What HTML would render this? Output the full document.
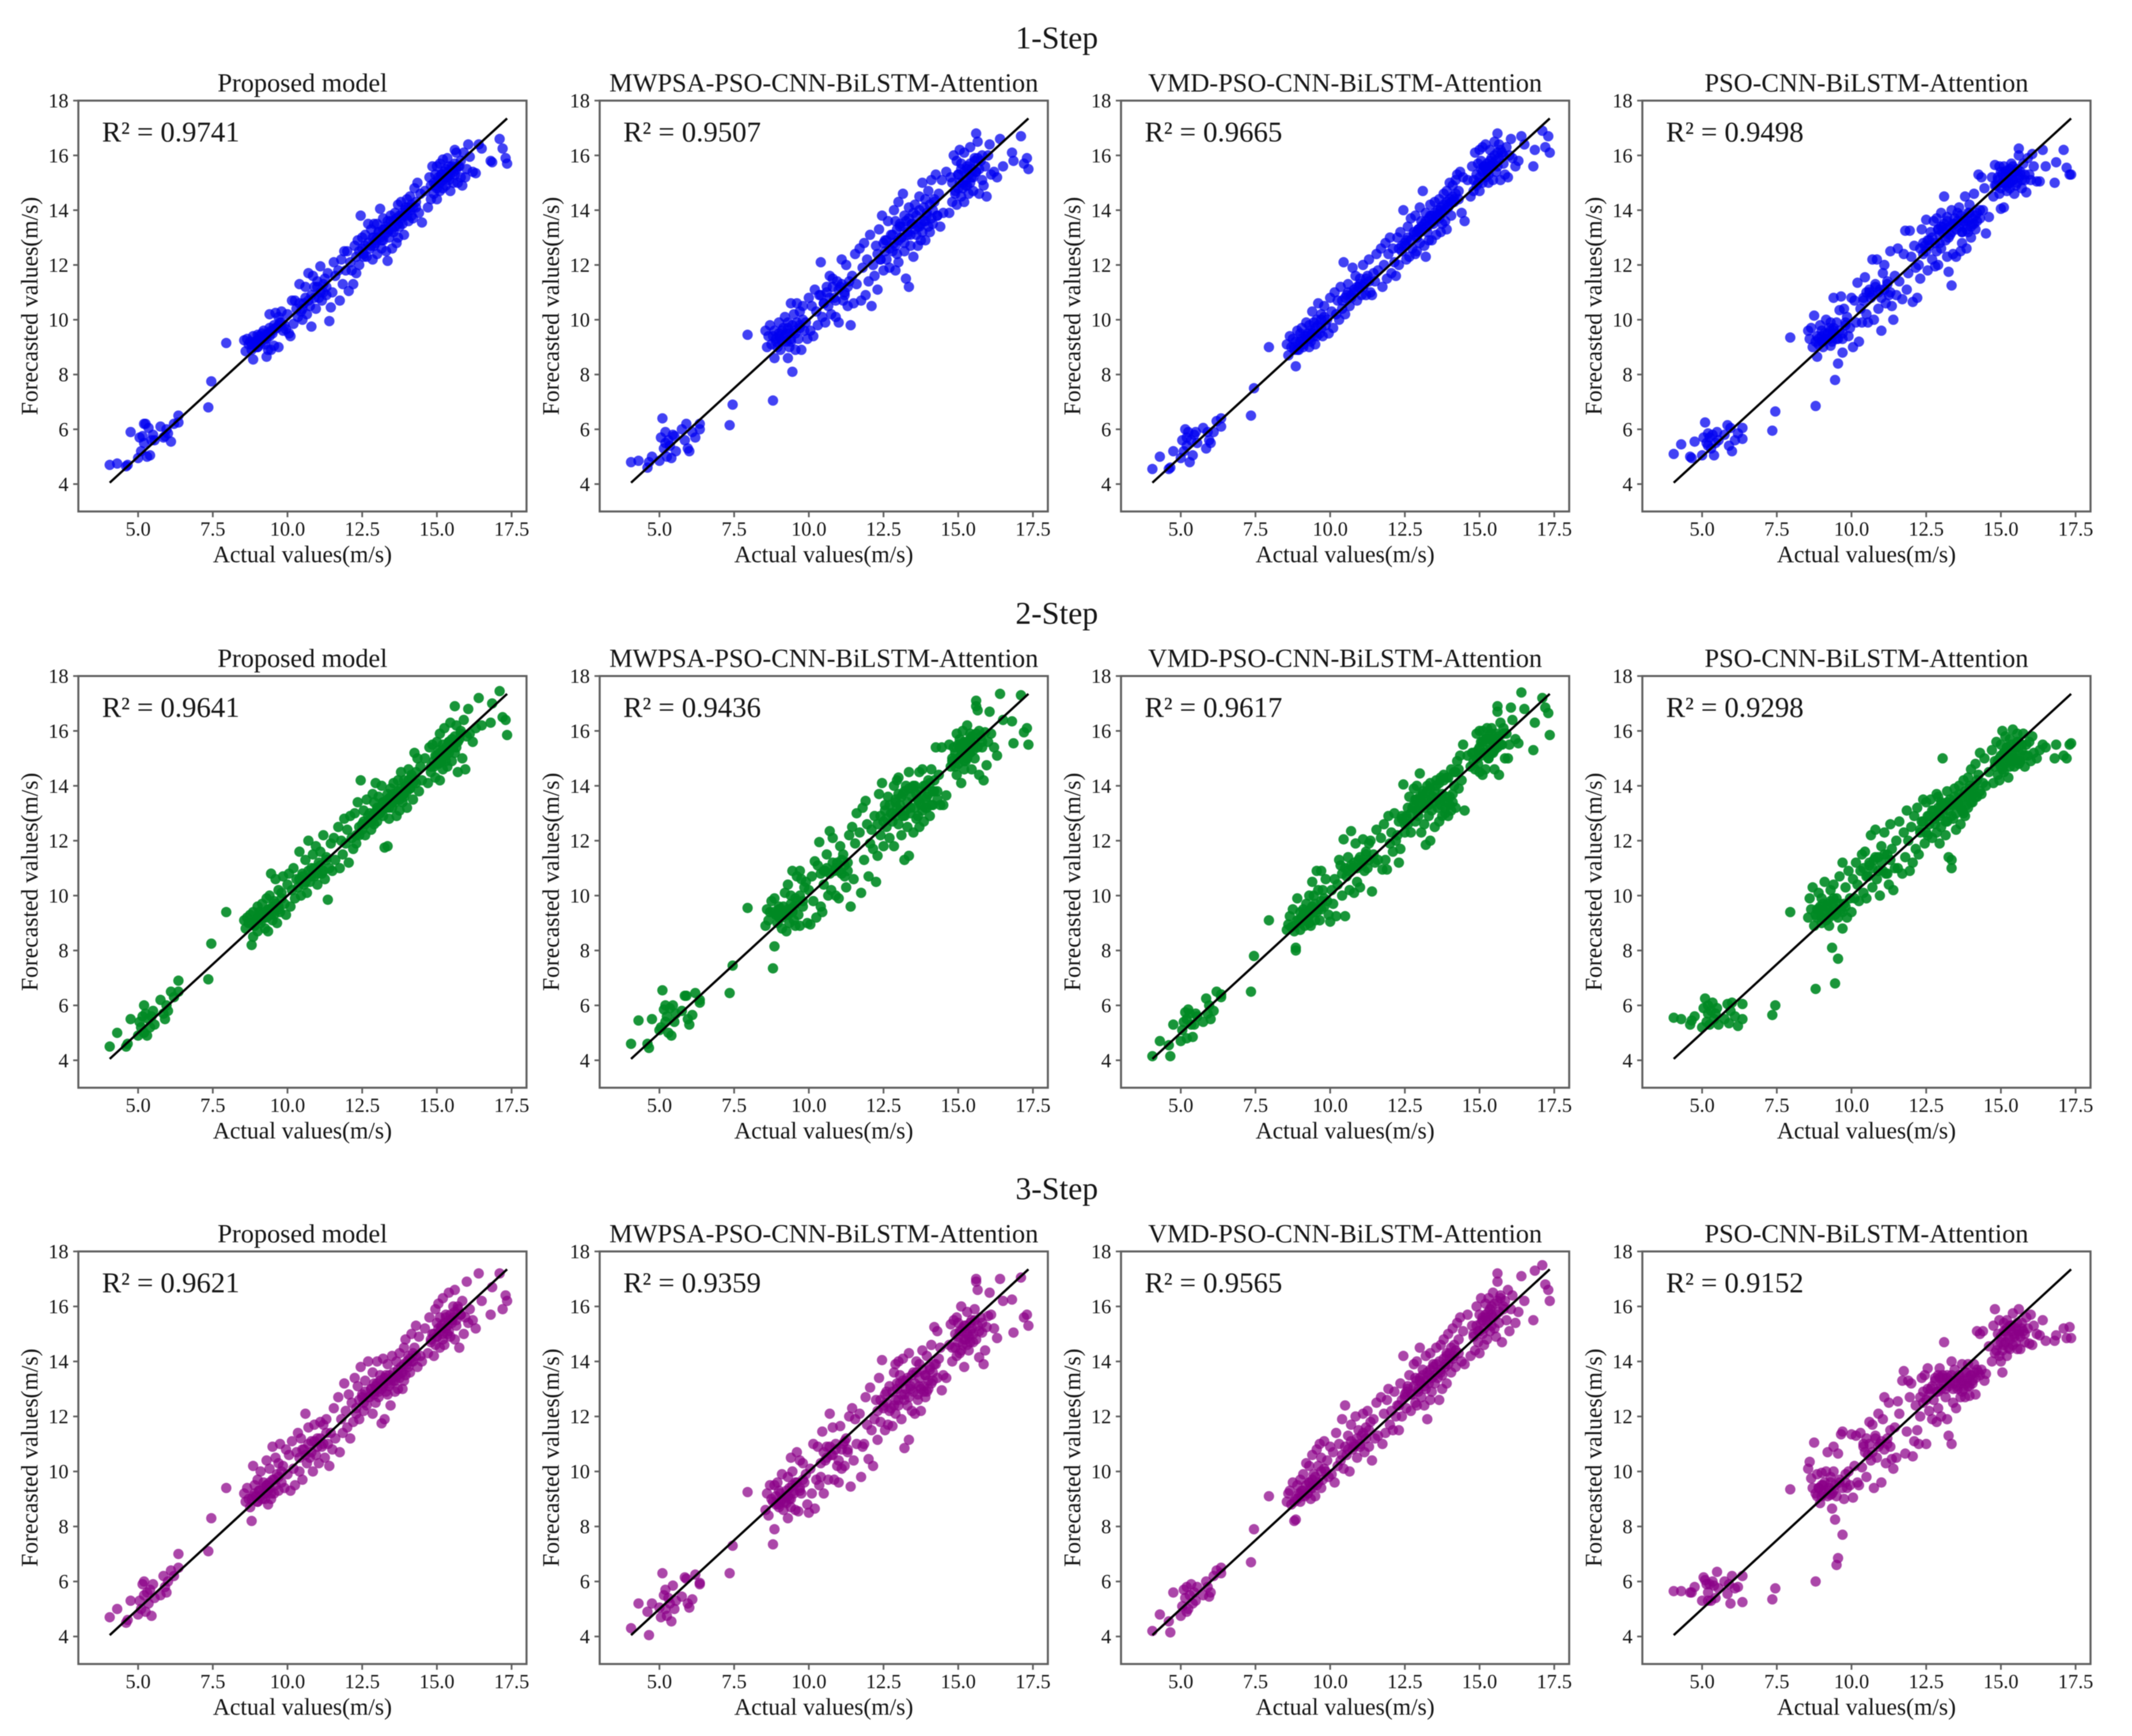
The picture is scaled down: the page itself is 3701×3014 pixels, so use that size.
<!DOCTYPE html>
<html lang="en">
<head>
<meta charset="utf-8">
<title>Forecast scatter comparison</title>
<style>
html,body{margin:0;padding:0;background:#fff;width:3701px;height:3014px;overflow:hidden}
svg{display:block;filter:blur(0.8px)}
text{font-family:"Liberation Serif",serif;fill:#151515}
</style>
</head>
<body>
<svg id="chart" xmlns="http://www.w3.org/2000/svg" width="3701" height="3014" viewBox="0 0 3701 3014"></svg>
<script>
const xTicks = [5, 7.5, 10, 12.5, 15, 17.5];
const xTickLabels = ['5.0', '7.5', '10.0', '12.5', '15.0', '17.5'];
const yTicks = [4, 6, 8, 10, 12, 14, 16, 18];
const yTickLabels = ['4', '6', '8', '10', '12', '14', '16', '18'];
const stepTitles = ['1-Step', '2-Step', '3-Step'];
const modelTitles = ['Proposed model', 'MWPSA-PSO-CNN-BiLSTM-Attention', 'VMD-PSO-CNN-BiLSTM-Attention', 'PSO-CNN-BiLSTM-Attention'];
const r2Labels = [
  ['0.9741', '0.9507', '0.9665', '0.9498'],
  ['0.9641', '0.9436', '0.9617', '0.9298'],
  ['0.9621', '0.9359', '0.9565', '0.9152']
];
const refLine = [4.05, 17.35];
const actual = [
4.05,4.3,4.6,4.65,4.75,
5.0,5.05,5.1,5.15,5.2,5.2,5.25,5.3,5.35,5.4,5.45,5.5,5.55,5.75,5.85,5.9,5.95,6.0,6.1,6.2,6.35,6.35,
7.35,7.45,7.95,
8.55,8.6,8.65,8.7,8.75,8.8,8.85,8.85,8.9,8.95,9.0,9.0,9.05,9.1,9.15,9.2,9.25,9.3,9.3,9.35,9.4,9.4,9.45,9.5,9.55,9.55,9.6,9.65,9.7,9.7,9.75,9.8,9.85,9.9,9.95,10.0,
10.05,10.1,10.15,10.2,10.25,10.3,10.35,10.4,10.45,10.5,10.55,10.6,10.65,10.7,10.75,10.8,10.85,10.9,10.95,11.0,11.05,11.1,11.15,11.2,11.25,11.3,11.35,11.4,11.45,11.5,
11.55,11.6,11.7,11.75,11.8,11.85,11.9,11.95,12.0,12.05,12.1,12.15,12.2,12.25,12.3,12.35,12.4,12.45,12.5,12.55,
12.6,12.65,12.7,12.75,12.8,12.85,12.85,12.9,12.9,12.95,13.0,13.0,13.05,13.1,13.15,13.2,13.2,13.25,13.3,13.35,13.35,13.4,13.45,13.5,13.55,13.6,13.65,13.7,13.7,13.75,13.8,13.85,13.9,13.9,13.95,14.0,14.05,14.1,14.15,14.2,14.25,14.3,14.35,14.4,14.45,14.5,
14.6,14.7,14.75,14.8,14.85,14.9,14.95,14.95,15.0,15.0,15.05,15.1,15.1,15.15,15.2,15.2,15.25,15.3,15.35,15.4,15.45,15.5,15.55,15.6,15.6,15.65,15.7,15.75,15.8,15.85,15.9,15.95,16.0,16.05,16.1,
16.2,16.3,16.4,16.5,16.8,16.85,17.1,17.2,17.3,17.35,
8.8,8.9,9.0,9.05,9.1,9.2,9.25,9.3,9.35,9.4,9.45,9.5,9.6,9.7,9.8,
10.4,10.5,10.6,10.7,10.8,10.9,11.0,11.1,11.2,11.3,
12.3,12.4,12.5,12.55,12.6,12.7,12.8,12.9,12.95,13.0,13.05,13.1,13.15,13.2,13.25,13.3,13.35,13.4,13.45,13.5,13.55,13.6,13.65,13.7,13.75,13.8,13.85,13.9,13.95,14.0,14.05,14.1,14.15,14.2,14.3,
14.8,14.9,15.0,15.05,15.1,15.15,15.2,15.25,15.3,15.3,15.35,15.4,15.4,15.45,15.5,15.55,15.6,15.65,15.7,15.8
];
const step1Proposed = [
4.7,4.75,4.65,4.7,5.9,
4.95,5.7,5.2,5.75,6.2,5.5,6.2,5.0,6.05,5.05,5.6,5.8,5.6,6.1,5.7,5.75,6.0,5.85,5.55,6.2,6.5,6.25,
6.8,7.75,9.15,
9.25,8.85,9.3,9.1,9.2,8.9,8.55,9.4,9.0,9.2,9.45,9.0,9.3,9.15,9.5,9.6,9.1,8.65,9.4,8.9,10.2,9.7,8.9,9.6,9.8,9.05,10.25,9.7,9.0,10.1,9.9,10.3,9.6,9.8,9.65,10.2,
9.5,9.4,10.7,9.85,10.7,10.4,10.1,11.3,10.3,10.0,10.6,11.2,10.2,11.7,10.5,9.75,11.6,11.2,10.4,11.4,10.8,11.95,10.7,11.0,11.5,10.9,11.7,9.95,10.45,11.0,
12.1,11.6,11.8,10.7,12.2,11.3,12.5,11.8,12.5,11.05,12.1,11.8,11.3,12.7,11.7,12.9,12.0,13.8,13.0,12.3,
13.1,12.3,13.5,12.6,13.3,12.2,13.0,13.5,12.7,12.9,13.5,12.4,13.2,14.05,12.6,13.7,12.9,13.3,12.5,12.15,13.6,13.0,13.8,12.6,13.2,13.9,12.8,13.0,14.2,13.4,14.3,13.5,13.8,13.1,14.1,14.4,13.6,14.5,13.8,13.7,14.8,14.1,15.0,13.9,14.6,13.55,
14.7,14.1,15.2,14.4,15.6,14.6,15.3,14.9,15.6,14.4,15.1,15.7,14.7,15.3,14.8,15.85,15.2,14.9,15.9,15.1,14.7,15.5,15.0,16.2,15.3,16.1,15.0,15.6,15.2,14.9,16.1,15.2,15.5,16.4,15.95,
15.4,15.35,16.4,16.25,15.8,15.75,16.6,16.25,15.9,15.7,
9.1,9.2,9.0,9.4,9.2,9.3,9.45,9.3,9.5,9.4,9.6,9.5,9.7,9.8,9.9,
10.6,10.4,10.8,10.7,10.9,10.8,11.2,11.0,11.3,11.2,
12.3,12.5,12.6,12.4,12.7,12.8,12.7,13.0,12.8,13.0,13.2,13.0,12.9,13.3,13.1,13.4,13.2,13.3,13.6,13.3,13.6,13.4,13.7,13.5,13.8,13.7,13.9,13.8,14.0,13.8,14.1,14.0,14.2,14.1,14.3,
14.9,15.0,14.8,15.2,15.0,15.3,15.1,15.4,15.2,15.5,15.2,15.4,15.6,15.3,15.6,15.4,15.7,15.5,15.6,15.8
];
const step1Mwpsa = [
4.8,4.85,4.6,4.8,5.0,
4.85,5.7,6.4,5.3,5.5,5.9,5.0,5.6,5.4,4.95,5.8,5.75,5.2,6.0,5.6,6.2,5.3,5.2,5.9,5.7,6.2,6.0,
6.15,6.9,9.45,
9.6,9.0,9.4,9.8,9.1,7.05,8.6,9.6,9.3,9.0,9.9,9.4,8.9,9.2,9.7,10.1,9.5,8.6,9.9,9.0,10.6,9.2,8.1,10.2,9.5,8.9,10.6,9.3,9.8,10.3,8.9,10.5,9.6,9.9,9.3,10.8,
9.6,10.5,9.4,11.1,10.3,9.8,10.9,12.1,10.1,10.6,9.9,11.2,10.5,11.6,10.2,11.5,10.8,10.1,11.4,9.9,11.2,12.2,10.7,11.0,12.0,10.5,11.4,9.8,11.6,10.6,
12.4,11.3,12.6,10.7,11.9,12.8,10.9,12.2,11.4,13.1,10.5,12.0,11.6,12.7,11.1,13.3,12.2,13.8,11.8,12.9,
12.2,13.6,11.9,13.1,12.5,14.0,12.8,11.8,13.6,12.4,14.3,12.1,13.4,13.0,14.6,12.5,13.8,11.5,13.1,11.2,14.1,12.7,13.5,12.3,14.2,13.1,12.7,14.5,13.4,12.9,15.0,13.6,14.4,12.9,13.8,14.7,13.2,15.1,13.5,14.4,15.3,13.8,14.6,13.4,15.1,13.9,
15.4,13.9,15.2,14.3,16.0,14.7,15.8,14.2,15.3,14.8,16.2,14.5,15.7,15.0,14.3,16.1,14.9,15.5,14.6,16.3,15.2,14.7,15.9,16.8,15.4,16.5,14.6,15.8,15.1,14.9,15.6,14.5,16.0,16.4,15.3,
15.4,15.2,16.6,15.6,16.1,15.8,16.7,15.7,15.9,15.5,
9.4,9.2,9.5,9.3,9.6,9.4,9.2,9.7,9.5,9.3,9.8,9.6,9.9,9.7,10.0,
10.9,10.6,11.0,10.8,11.2,10.7,11.1,11.3,10.9,11.2,
12.4,12.2,12.8,12.5,12.9,12.6,13.1,12.7,13.3,12.9,13.5,13.0,13.4,12.8,13.6,13.2,13.7,13.1,13.5,13.9,13.3,13.8,13.4,14.0,13.5,13.2,14.1,13.6,13.9,13.4,14.2,13.7,14.0,14.3,13.8,
15.0,14.6,15.3,15.0,15.5,14.8,15.4,15.1,15.6,14.9,15.3,15.7,15.0,15.5,15.2,15.8,15.4,15.9,15.5,16.0
];
const step1Vmd = [
4.55,5.0,4.55,4.6,5.2,
4.95,5.6,5.2,6.0,5.7,5.4,5.9,4.8,5.6,5.05,5.8,5.9,5.5,6.05,5.3,5.9,5.6,5.5,5.9,6.3,6.4,6.1,
6.5,7.5,9.0,
9.1,8.7,9.4,9.0,9.3,8.9,8.3,9.2,9.6,8.9,9.5,9.1,9.7,9.0,9.4,9.9,9.3,9.0,9.8,9.2,10.3,9.5,9.9,9.1,10.0,9.4,10.6,9.5,9.7,10.2,9.4,10.5,9.8,10.0,9.5,10.8,
10.3,9.7,11.0,10.2,10.7,10.0,11.2,10.4,12.1,10.2,10.9,11.3,10.5,10.8,11.9,11.0,11.6,10.7,11.2,11.5,10.9,12.0,11.3,10.9,11.6,12.2,11.0,10.9,11.7,11.4,
12.4,11.8,12.6,11.2,12.0,12.8,11.5,12.4,13.0,11.7,12.6,12.1,11.6,13.0,12.0,13.2,12.5,14.0,12.7,12.2,
13.4,12.3,13.7,12.6,13.2,12.4,13.8,13.0,12.5,13.3,14.1,12.8,13.6,14.7,12.7,13.9,12.3,13.2,12.9,13.8,14.2,12.9,13.5,14.3,13.1,13.8,14.4,13.2,14.0,13.5,14.6,13.6,14.7,13.3,14.2,15.0,13.8,14.9,14.3,15.1,15.3,14.4,15.4,13.9,15.2,13.6,
15.1,14.5,15.6,14.7,16.1,14.9,15.7,15.0,16.2,14.7,15.8,16.3,15.0,15.6,15.2,16.4,15.4,15.0,16.2,15.6,15.1,16.5,15.4,16.8,15.6,16.4,15.1,16.1,15.7,15.3,16.3,15.2,16.0,16.6,15.9,
15.6,15.8,16.7,16.4,15.6,16.2,16.9,16.3,16.7,16.1,
9.0,8.9,9.2,9.3,9.1,9.4,9.5,9.3,9.6,9.5,9.4,9.7,9.8,10.0,10.1,
10.7,10.8,11.0,10.9,11.1,11.2,11.3,11.2,11.5,11.4,
12.6,12.7,12.8,12.9,13.0,12.9,13.1,13.2,13.3,13.2,13.4,13.3,13.5,13.6,13.4,13.7,13.5,13.8,13.6,13.9,13.8,14.0,13.7,14.1,13.9,14.2,14.0,14.3,14.1,14.4,14.3,14.5,14.4,14.6,14.7,
15.1,15.3,15.2,15.5,15.4,15.6,15.5,15.7,15.6,15.3,15.8,15.6,15.9,15.7,16.0,15.8,16.1,15.9,16.2,16.0
];
const step1Pso = [
5.1,5.45,5.0,4.95,5.55,
5.05,5.7,6.25,5.5,5.85,5.4,5.7,5.3,5.8,5.05,5.5,5.9,5.6,5.8,6.15,5.4,6.05,5.2,5.6,5.85,6.05,5.65,
5.95,6.65,9.35,
9.6,9.3,9.7,9.0,10.15,6.85,8.65,9.4,9.1,9.8,9.2,9.6,9.0,9.5,10.0,9.3,9.7,9.05,9.9,9.2,9.6,10.8,7.8,9.9,8.4,9.3,10.35,10.85,8.8,9.3,10.4,9.9,10.1,9.4,9.7,10.8,
9.0,10.7,9.9,11.35,9.2,10.4,9.9,10.7,11.55,10.2,9.9,11.0,10.8,12.2,10.0,11.3,12.2,10.4,11.1,9.6,11.7,12.0,10.6,11.4,10.9,12.5,10.5,10.0,11.6,10.9,
12.6,11.4,10.75,12.4,13.25,11.1,11.7,13.25,12.3,10.65,12.7,11.9,10.8,12.0,11.5,13.3,12.4,12.7,13.65,11.8,
12.9,13.2,12.2,13.6,11.95,12.5,13.7,12.0,13.3,12.8,13.9,12.6,13.4,14.5,12.9,13.75,12.3,11.75,13.1,11.25,14.0,12.4,13.5,12.3,13.9,14.1,12.5,13.2,12.8,13.6,14.5,12.6,13.9,13.2,14.2,13.0,13.5,14.6,13.3,13.9,15.3,13.7,15.2,14.0,14.8,13.15,
13.75,15.2,14.5,15.65,14.9,15.1,15.6,14.6,15.4,14.05,15.0,15.6,14.1,15.3,14.7,15.45,15.0,14.8,15.7,15.1,14.6,15.4,15.0,16.25,16.0,15.3,14.8,15.7,15.1,14.65,15.9,15.3,15.1,16.05,15.6,
15.05,15.05,16.2,15.6,15.0,15.75,16.2,15.55,15.3,15.3,
9.2,9.3,9.4,9.2,9.3,9.5,9.3,9.6,9.4,9.7,9.5,9.3,9.6,9.5,9.8,
10.8,11.0,11.1,10.9,11.2,11.0,10.8,11.1,11.3,11.0,
12.6,12.8,12.5,12.9,12.7,13.0,12.8,13.3,13.1,13.4,13.2,13.5,13.3,13.6,13.0,13.4,13.2,13.5,13.7,13.3,13.6,13.4,13.8,13.2,13.5,13.7,13.3,13.6,13.9,13.4,13.7,13.5,13.8,13.6,14.0,
14.9,15.2,14.8,15.3,15.0,15.4,14.9,15.2,15.5,15.0,15.3,15.6,15.1,15.4,14.9,15.5,15.2,15.4,15.1,15.3
];
const step2Proposed = [
4.5,5.0,4.5,4.6,5.5,
4.9,5.4,5.2,5.6,6.0,5.0,5.7,4.9,5.5,5.2,5.6,5.8,5.3,6.2,5.7,5.5,6.0,5.8,6.5,6.3,6.9,6.5,
6.95,8.25,9.4,
9.1,8.8,9.2,9.0,9.3,8.2,8.5,9.4,8.9,9.1,9.6,8.7,9.4,9.0,9.7,9.2,8.8,9.9,9.2,8.7,10.0,9.5,10.8,9.1,9.8,9.3,10.6,9.0,9.6,10.2,9.4,10.1,10.7,9.7,9.3,10.4,
10.8,9.6,10.2,11.0,9.9,10.6,10.3,11.6,10.0,10.8,10.4,11.3,10.1,12.0,10.5,11.0,11.5,10.7,11.8,10.4,11.2,11.6,10.8,12.2,10.6,11.4,9.85,11.0,11.9,10.9,
12.1,11.3,12.5,11.0,12.0,11.5,12.8,11.9,12.4,11.2,12.9,12.1,11.7,13.0,11.9,13.4,12.2,14.2,12.6,13.1,
12.2,13.5,12.7,13.0,12.4,13.7,12.9,13.4,12.6,14.1,13.2,12.7,13.6,13.0,14.0,12.9,13.4,11.75,13.2,11.8,13.7,12.8,13.9,13.2,14.1,13.4,12.9,14.2,13.6,13.1,14.5,13.4,14.2,13.7,14.0,13.2,14.6,13.9,14.4,13.5,15.2,14.1,15.0,13.8,14.7,14.2,
15.0,14.1,15.4,14.5,15.5,14.7,15.1,14.3,15.6,14.8,15.3,14.2,15.9,14.9,15.5,14.6,16.1,15.1,14.7,15.6,16.3,14.9,15.4,16.9,15.2,16.2,14.5,15.7,16.0,15.0,16.4,14.6,15.8,16.8,15.9,
15.6,16.1,17.2,16.2,16.3,17.0,17.45,16.5,16.4,15.85,
9.0,8.9,9.2,9.1,9.3,9.2,9.4,9.3,9.5,9.4,9.3,9.6,9.7,9.5,9.9,
10.6,10.7,10.5,10.9,10.7,11.0,10.8,11.1,10.9,11.3,
12.2,12.5,12.4,12.7,12.6,12.9,12.7,13.0,12.9,13.1,13.0,13.2,13.1,13.4,13.2,13.3,13.5,13.2,13.6,13.4,13.7,13.5,13.6,13.8,13.5,13.9,13.7,13.6,14.0,13.8,14.2,13.9,14.3,14.1,14.5,
14.7,14.9,15.1,14.8,15.2,15.0,15.3,15.1,15.4,14.9,15.3,15.2,15.6,15.4,15.7,15.5,15.8,15.4,15.6,15.9
];
const step2Mwpsa = [
4.6,5.45,4.6,4.45,5.5,
5.1,5.2,6.55,5.85,6.0,5.4,5.6,5.0,5.9,4.9,6.0,5.4,5.7,5.8,6.35,6.35,5.5,5.3,5.65,6.45,6.1,6.2,
6.45,7.45,9.55,
8.9,9.5,9.1,9.4,9.8,7.35,8.15,9.9,9.3,9.0,9.5,9.2,9.4,8.8,9.6,10.1,8.7,9.3,10.4,9.0,9.5,10.0,10.9,9.1,9.9,8.9,10.7,9.3,10.9,8.9,10.6,9.6,10.3,10.5,9.0,10.2,
8.95,10.7,9.8,11.25,9.2,11.1,11.95,9.6,9.4,10.4,10.9,11.5,10.0,12.35,10.2,12.1,10.9,10.0,11.2,9.9,11.8,10.8,11.5,10.7,10.3,11.2,12.2,9.6,12.5,10.6,
11.9,13.0,12.3,10.1,13.2,11.3,13.45,12.6,10.7,11.9,12.4,11.7,12.9,10.5,11.45,13.7,12.2,14.1,11.8,13.3,
12.5,13.6,12.1,13.0,12.7,14.0,11.8,13.4,12.9,14.2,12.6,14.3,13.1,12.2,13.7,12.9,11.3,14.0,12.5,14.5,11.45,13.2,13.9,12.3,14.0,12.8,13.5,14.5,12.5,13.3,14.6,12.7,14.0,13.2,13.6,14.2,12.9,14.6,13.3,13.8,15.4,13.8,14.4,13.3,15.4,13.3,
13.65,15.5,14.7,15.0,15.4,14.7,15.9,14.4,15.5,14.8,15.7,14.1,15.3,16.0,14.6,15.6,14.9,16.2,15.2,15.9,14.6,15.5,15.0,17.1,16.9,16.75,14.4,15.8,15.4,14.2,15.95,14.75,15.6,16.7,15.9,
15.4,15.1,17.35,16.4,16.35,15.55,17.3,15.95,16.1,15.5,
9.4,9.3,9.6,9.5,9.2,9.4,9.3,9.5,9.4,9.7,9.4,9.6,9.8,10.0,9.8,
10.8,10.9,11.0,10.8,11.2,11.0,10.9,11.3,11.1,10.9,
12.6,12.9,12.7,13.1,12.8,13.3,13.0,13.5,13.2,13.7,13.3,13.6,12.9,13.8,13.1,13.4,13.9,13.0,13.6,14.0,13.2,13.7,12.9,13.4,13.8,13.1,14.0,13.5,13.2,13.7,14.1,13.3,13.8,14.2,13.5,
14.9,15.2,15.0,15.4,15.1,15.5,14.9,15.3,15.6,15.0,15.4,15.7,15.2,15.8,15.3,15.6,15.9,15.4,16.0,15.6
];
const step2Vmd = [
4.15,4.7,4.55,4.15,5.3,
4.7,5.1,5.4,5.75,4.8,5.5,5.85,5.7,5.3,4.85,5.3,5.7,5.6,5.4,6.25,5.7,6.0,5.5,5.8,6.5,6.3,6.4,
6.5,7.8,9.1,
8.75,8.95,9.25,8.85,9.5,8.7,8.1,8.0,9.9,9.1,9.4,8.75,9.2,9.5,8.9,9.7,9.2,9.0,10.0,8.9,10.5,9.5,10.0,9.1,10.9,9.4,10.2,9.1,10.9,9.5,10.2,9.6,10.6,9.8,9.3,9.05,
10.2,9.7,10.6,9.25,10.4,11.3,11.1,10.0,12.05,9.25,10.7,11.4,10.2,12.35,11.0,10.1,11.9,10.5,11.3,10.3,11.1,12.05,10.9,11.6,11.0,11.9,12.0,10.15,11.5,11.2,
12.4,11.3,12.1,10.95,12.6,11.3,10.95,12.9,11.9,12.3,11.6,13.0,12.0,12.2,11.2,11.7,12.8,14.05,12.3,12.9,
12.6,13.6,12.3,13.2,13.9,12.7,13.5,14.0,13.1,12.9,14.45,13.3,12.3,13.8,12.6,11.85,13.4,14.0,12.9,12.0,14.1,13.1,13.6,12.5,14.2,13.2,12.7,14.3,13.5,12.9,14.4,13.0,14.3,13.6,12.9,13.3,14.6,13.7,14.0,14.5,14.9,13.9,15.1,14.2,15.5,13.1,
15.1,14.7,15.2,14.9,14.6,15.9,15.3,14.8,16.0,14.5,15.6,16.0,14.4,15.2,15.7,14.6,16.1,15.0,15.7,16.1,15.2,14.6,15.9,16.9,16.7,14.4,16.3,15.5,16.1,15.0,15.9,15.0,15.5,16.85,16.4,
15.7,15.55,17.4,16.8,15.3,16.3,17.2,16.85,16.65,15.85,
8.9,9.1,9.0,9.2,9.3,9.1,9.4,9.3,9.5,9.6,9.4,9.7,9.5,9.8,9.9,
10.8,11.0,10.9,11.1,11.2,11.0,11.4,11.2,11.5,11.3,
12.7,12.9,12.6,12.8,13.2,13.0,13.3,13.5,13.1,13.6,13.4,13.7,13.2,13.5,13.8,13.3,13.9,13.6,13.4,13.8,14.0,13.5,14.1,13.3,13.7,14.2,13.2,13.4,14.3,13.6,13.1,13.4,14.5,13.2,14.6,
15.2,15.0,15.4,15.1,15.6,15.2,15.7,15.3,15.8,15.0,15.5,15.9,15.2,15.6,15.3,15.7,15.4,15.8,15.5,15.9
];
const step2Pso = [
5.55,5.5,5.3,5.45,5.6,
5.2,5.9,6.25,5.4,5.7,6.0,5.3,5.8,6.1,5.5,5.7,5.9,5.3,5.5,6.05,5.35,5.8,6.1,5.6,5.25,6.05,5.5,
5.65,6.0,9.4,
9.2,9.9,9.5,10.3,8.9,6.6,9.5,9.2,10.1,9.6,9.0,9.9,9.4,10.5,9.1,9.7,8.9,10.2,9.3,8.1,9.6,10.4,6.8,9.9,7.7,9.2,10.7,9.5,8.8,11.2,9.7,10.3,9.2,10.9,9.9,9.4,
10.6,9.9,11.2,10.4,9.8,10.9,11.5,10.1,11.6,9.9,10.7,11.1,12.2,10.3,11.3,12.4,10.6,11.4,10.0,11.8,10.9,12.3,10.8,11.5,10.4,12.6,11.7,10.2,11.0,12.0,
11.0,12.7,10.8,12.3,11.4,13.1,12.0,10.9,12.5,11.2,12.9,11.7,13.2,11.5,12.3,12.7,13.5,11.9,13.4,12.2,
12.9,13.5,12.1,13.1,12.6,13.7,12.3,13.0,13.6,11.9,13.4,12.5,15.0,13.2,12.2,13.8,12.7,11.4,13.3,11.3,11.0,12.8,13.9,12.4,13.3,14.0,12.6,13.6,13.1,14.2,12.9,13.7,14.3,13.2,14.0,14.6,13.4,13.9,14.8,13.6,14.4,15.2,13.7,14.1,15.0,14.0,
14.5,15.3,14.1,14.9,15.6,14.4,15.0,14.2,15.5,14.7,16.0,15.2,14.5,15.8,14.9,15.4,14.3,15.7,15.0,16.05,14.7,15.4,15.9,14.8,15.6,14.9,15.3,15.9,14.7,15.5,15.1,15.6,14.9,15.8,15.2,
15.0,15.3,15.5,15.4,15.0,15.5,15.1,15.0,15.5,15.55,
9.3,9.5,9.2,9.7,9.4,9.6,9.2,9.8,9.4,9.9,9.3,9.5,9.7,9.4,9.6,
11.0,10.7,11.2,11.0,11.4,10.9,11.2,11.5,10.8,11.3,
12.4,12.7,12.3,12.9,12.6,13.1,12.8,13.2,12.9,13.3,13.0,13.3,12.7,13.4,13.1,13.5,12.9,13.3,13.6,13.0,13.4,13.7,13.2,13.5,13.0,13.8,13.3,13.6,13.9,13.4,13.7,14.0,13.6,14.2,13.8,
14.7,14.9,15.1,14.6,15.2,14.8,15.4,15.0,15.3,14.7,15.5,15.1,14.9,15.4,15.0,15.6,15.2,14.9,15.5,15.1
];
const step3Proposed = [
4.7,5.0,4.5,4.6,5.3,
4.8,5.3,5.0,5.9,5.5,6.0,4.9,5.6,5.2,5.7,4.75,5.9,5.4,5.5,6.2,5.8,5.6,6.0,6.4,6.2,7.0,6.5,
7.1,8.3,9.4,
9.2,8.9,9.4,9.0,8.7,8.2,9.1,10.2,9.5,9.1,9.7,8.9,9.3,10.0,9.0,9.6,9.2,10.4,9.5,8.8,10.1,9.4,9.0,10.9,9.7,9.2,10.5,9.9,9.3,10.3,11.0,9.6,10.2,9.4,10.8,9.9,
10.6,9.3,11.1,10.1,9.5,10.7,11.4,10.0,11.2,9.7,10.8,12.1,10.3,11.6,10.5,11.1,10.0,11.7,10.6,11.2,10.3,11.8,10.9,11.7,10.5,11.9,11.0,10.2,11.4,10.8,
12.3,11.2,12.7,10.7,11.9,11.4,13.2,12.2,11.6,12.8,11.2,12.5,11.8,13.4,12.1,13.1,11.9,13.8,12.7,12.2,
13.3,12.4,14.0,12.7,13.0,12.1,13.6,12.9,13.2,12.5,14.0,13.0,12.7,13.5,11.75,14.1,13.2,11.9,13.5,12.8,13.9,13.1,12.4,14.2,13.3,12.9,14.0,13.5,13.0,14.3,13.6,13.0,14.5,13.3,14.8,13.9,14.2,13.6,15.0,14.0,14.5,15.3,13.8,14.9,14.2,14.0,
15.2,14.3,15.6,14.7,15.0,14.2,15.9,14.6,15.4,14.9,16.1,14.5,15.6,15.2,14.8,16.3,14.6,15.7,15.0,16.5,14.9,15.5,16.0,14.8,16.6,15.3,15.9,14.5,15.7,16.2,15.0,15.6,16.9,15.4,15.9,
15.5,15.2,17.2,16.2,15.7,16.7,17.2,15.9,16.4,16.2,
9.0,9.2,8.9,9.3,9.1,9.4,9.0,9.5,9.3,9.6,9.2,9.7,9.5,9.8,10.0,
10.5,10.8,10.6,11.0,10.7,11.1,10.9,11.2,11.0,11.4,
12.3,12.6,12.8,12.5,12.9,12.7,13.0,12.8,13.1,13.2,12.9,13.3,13.0,13.1,13.4,12.9,13.3,13.5,13.2,13.4,13.6,13.3,13.5,13.7,13.4,13.8,13.6,13.9,13.5,14.0,13.8,14.1,14.0,14.3,14.2,
14.8,15.0,14.9,15.2,15.1,15.3,15.0,15.4,15.2,15.6,15.3,15.5,15.1,15.7,15.4,15.6,15.8,15.5,16.0,15.7
];
const step3Mwpsa = [
4.3,5.2,4.9,4.05,5.2,
5.05,4.7,6.3,5.5,5.7,5.0,4.75,5.4,5.2,4.55,5.85,5.0,5.3,5.45,6.15,6.1,5.2,5.05,5.35,6.25,5.95,5.9,
6.3,7.3,9.25,
8.6,9.2,8.4,9.5,9.0,7.35,7.9,9.5,8.8,9.6,8.7,9.3,8.9,9.9,8.6,9.1,8.85,8.3,9.8,9.0,10.5,8.7,10.0,9.3,8.6,9.6,10.7,8.55,9.3,10.4,9.2,10.3,9.6,9.9,8.8,8.5,
10.1,9.2,11.0,8.65,9.7,10.9,9.5,9.8,11.45,9.2,10.4,10.9,9.7,12.1,10.6,11.6,9.7,10.8,10.2,9.6,11.65,10.1,11.0,10.2,11.2,10.8,12.0,9.45,12.3,10.4,
11.9,11.0,12.1,9.8,10.9,11.0,12.7,11.7,10.45,13.05,11.5,10.2,11.9,12.6,11.15,13.4,11.8,14.05,12.4,11.5,
12.9,11.7,13.1,12.3,11.65,13.6,12.4,13.9,12.1,13.2,14.0,12.6,13.5,11.9,14.1,12.8,10.85,13.3,12.4,14.3,11.15,13.0,12.2,13.6,12.1,14.0,12.6,13.1,13.9,12.2,14.4,12.9,13.5,12.7,14.2,13.0,13.7,14.6,13.3,15.25,13.9,15.1,14.1,14.5,12.95,13.5,
13.4,14.6,15.35,14.0,15.5,14.5,15.6,14.2,14.9,15.4,14.3,15.1,16.0,14.6,13.8,15.3,14.8,15.8,14.4,15.1,15.5,14.7,15.9,17.0,16.9,16.6,14.15,15.6,15.05,13.9,14.4,15.25,15.65,16.5,15.7,
15.2,14.85,17.0,16.2,16.25,15.05,17.05,15.6,15.7,15.3,
8.9,9.1,8.8,9.2,9.0,8.9,9.3,9.1,9.4,9.0,9.5,9.2,9.6,9.4,9.7,
10.3,10.7,10.5,10.9,10.6,11.0,10.4,10.8,11.1,10.7,
12.2,12.6,12.3,12.8,12.5,12.2,12.9,12.6,13.0,12.4,13.2,12.8,13.3,12.6,13.0,13.4,12.7,13.1,13.5,12.9,13.2,13.6,12.8,13.4,13.0,13.7,13.1,13.5,12.9,13.3,13.8,13.2,13.6,13.9,13.4,
14.5,15.0,14.7,15.1,14.4,15.2,14.8,15.3,14.6,15.0,14.9,15.4,14.7,15.2,15.0,15.5,14.8,15.3,15.1,15.4
];
const step3Vmd = [
4.2,4.8,4.55,4.15,5.6,
4.75,5.1,5.7,5.4,4.9,5.8,5.0,5.5,5.9,5.2,5.6,5.3,5.8,5.5,6.0,5.8,5.45,5.6,6.2,6.4,6.5,6.3,
6.7,7.9,9.1,
8.9,9.2,9.3,8.8,9.6,8.2,8.25,9.0,9.5,9.2,9.7,8.9,9.3,9.9,9.1,10.3,9.2,9.6,10.2,9.0,10.6,9.4,9.9,9.1,10.8,9.5,10.2,11.0,9.4,10.5,9.7,11.1,10.0,10.4,9.8,10.9,
9.9,10.7,9.6,11.4,10.2,11.0,10.4,11.9,10.1,12.4,10.6,11.3,10.0,11.7,10.8,11.0,12.0,10.5,11.5,10.9,11.3,12.1,10.7,11.6,12.2,10.9,11.8,10.4,11.9,11.2,
12.5,11.3,12.7,11.0,12.1,11.4,12.6,13.0,11.7,12.2,11.5,12.9,12.0,12.4,11.5,13.2,12.0,14.2,12.8,12.3,
13.1,13.5,12.2,12.8,13.9,12.5,13.4,12.4,14.0,12.9,13.3,14.5,12.7,13.7,12.4,14.2,13.0,11.9,13.5,12.6,14.3,12.9,13.9,13.2,14.5,13.4,12.6,14.6,13.6,13.0,14.8,13.9,14.3,13.2,15.0,14.1,13.6,15.2,14.2,13.8,15.4,14.3,15.6,14.0,15.1,13.9,
15.7,14.2,15.3,14.9,14.4,16.0,15.1,14.7,15.7,14.3,16.3,15.0,15.5,14.6,16.1,15.6,14.8,16.3,15.1,15.7,16.5,15.2,14.9,17.2,16.9,15.4,16.4,14.7,15.9,16.2,15.5,16.6,15.1,15.9,16.4,
15.4,15.8,17.1,16.2,15.5,17.3,17.5,16.8,16.6,16.2,
8.9,9.0,9.2,9.1,9.3,9.5,9.2,9.6,9.4,9.7,9.5,9.8,9.6,10.0,10.1,
10.6,10.9,10.8,11.1,10.9,11.2,11.0,11.4,11.2,11.5,
12.4,12.6,12.7,12.9,13.0,12.8,13.1,13.3,13.0,13.4,13.2,13.5,13.1,13.3,13.6,13.2,13.7,13.4,13.8,13.5,13.9,13.6,14.0,13.7,13.5,14.1,13.8,14.2,13.9,14.3,14.5,14.1,14.6,14.4,14.8,
15.0,15.3,15.1,15.4,15.6,15.2,15.7,15.4,15.8,15.5,15.9,15.3,16.0,15.6,16.1,15.7,16.2,15.8,16.3,16.0
];
const step3Pso = [
5.65,5.65,5.6,5.6,5.8,
5.3,6.15,6.05,5.9,5.6,5.3,5.9,5.3,6.0,5.85,5.4,6.35,5.75,6.0,5.55,5.9,5.2,6.2,5.75,5.8,5.25,6.2,
5.35,5.75,9.35,
10.1,10.35,9.75,9.4,11.05,6.0,9.1,9.9,9.4,8.85,9.5,9.95,9.2,9.6,10.0,10.7,9.3,9.8,9.15,8.65,10.0,10.9,8.25,6.6,6.85,10.65,9.6,11.35,7.7,11.45,9.0,9.9,9.4,10.0,9.5,11.35,
9.05,10.2,11.3,9.6,9.5,11.4,10.15,11.0,10.7,9.8,10.6,11.8,10.4,11.7,9.4,11.2,10.5,12.1,11.0,9.6,11.9,12.7,10.3,11.0,12.5,11.5,10.45,10.1,11.6,10.5,
12.55,12.1,13.3,13.65,10.65,11.45,13.3,12.7,13.2,10.55,11.1,12.4,11.5,11.0,12.0,13.4,12.5,13.5,11.0,13.75,
12.2,13.0,11.9,12.6,13.4,11.8,12.9,13.5,12.3,13.75,13.1,12.0,13.4,14.7,12.7,11.9,13.5,11.3,13.2,14.0,11.0,12.5,13.7,12.3,13.0,13.4,12.7,13.9,12.9,13.3,12.7,13.6,13.9,13.1,12.75,13.5,13.2,13.9,12.8,15.1,13.6,15.0,13.7,15.1,13.3,13.55,
14.55,14.0,15.3,15.9,14.4,15.0,14.2,15.5,14.7,14.0,13.6,15.4,14.6,15.1,14.2,15.5,14.9,14.45,15.3,15.75,14.9,15.2,14.45,15.9,15.0,14.45,15.4,15.1,14.7,15.6,15.2,14.65,15.7,14.6,15.3,
15.0,14.95,15.5,14.75,14.75,14.95,15.2,14.85,15.25,14.85,
9.2,9.4,9.1,9.5,9.3,9.1,9.4,9.6,9.2,9.3,9.5,9.1,9.7,9.4,9.6,
10.9,11.2,11.0,10.7,11.3,10.9,11.1,10.8,11.2,10.9,
12.7,12.9,12.6,13.0,12.8,13.1,13.3,12.9,13.4,13.0,13.5,13.2,13.0,13.4,13.1,13.3,13.5,13.0,13.2,13.4,13.1,13.5,13.2,13.3,13.0,13.6,13.2,13.4,13.1,13.5,13.3,13.6,13.4,13.7,13.5,
14.3,14.6,14.9,14.4,15.1,14.7,15.2,14.5,15.3,14.8,15.1,14.6,15.3,15.0,14.7,15.4,15.1,14.9,15.2,15.0
];
const seriesGrid = [
  [step1Proposed, step1Mwpsa, step1Vmd, step1Pso],
  [step2Proposed, step2Mwpsa, step2Vmd, step2Pso],
  [step3Proposed, step3Mwpsa, step3Vmd, step3Pso]
];

const NS = 'http://www.w3.org/2000/svg';
const root = document.getElementById('chart');
const rowFills = ['#0000f0', '#008a24', '#8b0088'];
const rowOpacity = [0.74, 0.9, 0.72];
const rowNames = ['step-1', 'step-2', 'step-3'];
const modelNames = ['proposed', 'mwpsa', 'vmd', 'pso'];
const W = 778;
const colLeft = c => 136 + c * 905;
const rowTop = r => 174.7 + r * 999;
const rowBottom = r => 888 + r * 1000.5;
const X_MIN = 3, X_MAX = 18, Y_MIN = 3, Y_MAX = 18;

function make(tag, attrs, parent) {
  const el = document.createElementNS(NS, tag);
  for (const k in attrs) el.setAttribute(k, attrs[k]);
  parent.appendChild(el);
  return el;
}

for (let r = 0; r < 3; r++) {
  const stepTitle = make('text', {x: 1834.5, y: 84 + r * 999, 'text-anchor': 'middle', 'font-size': 55}, root);
  
  
  stepTitle.textContent = stepTitles[r];

  for (let c = 0; c < 4; c++) {
    const left = colLeft(c), top = rowTop(r), bottom = rowBottom(r), H = bottom - top;
    const sx = v => left + (v - X_MIN) / (X_MAX - X_MIN) * W;
    const sy = v => bottom - (v - Y_MIN) / (Y_MAX - Y_MIN) * H;

    const panel = make('g', {}, root);
    
    

    const title = make('text', {x: left + W / 2, y: top - 15.7, 'text-anchor': 'middle', 'font-size': 45.6}, panel);
    
    
    title.textContent = modelTitles[c];

    const ys = seriesGrid[r][c];
    const points = make('g', {fill: rowFills[r], 'fill-opacity': rowOpacity[r]}, panel);
    
    
    for (let i = 0; i < actual.length && i < ys.length; i++) {
      const dot = make('circle', {cx: sx(actual[i]), cy: sy(ys[i]), r: 9}, points);
      
      
    }

    const line = make('line', {x1: sx(refLine[0]), y1: sy(refLine[0]), x2: sx(refLine[1]), y2: sy(refLine[1]), stroke: '#000', 'stroke-width': 4}, panel);
    
    

    const frame = make('rect', {x: left, y: top, width: W, height: H, fill: 'none', stroke: '#5e5e5e', 'stroke-width': 3.5}, panel);
    
    

    xTicks.forEach((v, i) => {
      const tick = make('line', {x1: sx(v), y1: bottom, x2: sx(v), y2: bottom + 10, stroke: '#5e5e5e', 'stroke-width': 3}, panel);
      
      
      const label = make('text', {x: sx(v), y: bottom + 42, 'text-anchor': 'middle', 'font-size': 35}, panel);
      
      
      label.textContent = xTickLabels[i];
    });
    yTicks.forEach((v, i) => {
      const tick = make('line', {x1: left - 9, y1: sy(v), x2: left, y2: sy(v), stroke: '#5e5e5e', 'stroke-width': 3}, panel);
      
      
      const label = make('text', {x: left - 17, y: sy(v) + 12, 'text-anchor': 'end', 'font-size': 35}, panel);
      
      
      label.textContent = yTickLabels[i];
    });

    const xLabel = make('text', {x: left + W / 2, y: bottom + 88, 'text-anchor': 'middle', 'font-size': 41}, panel);
    
    
    xLabel.textContent = 'Actual values(m/s)';

    const yLabel = make('text', {x: 0, y: 0, 'text-anchor': 'middle', 'font-size': 41, transform: 'translate(' + (left - 71) + ' ' + (top + H / 2) + ') rotate(-90)'}, panel);
    
    
    yLabel.textContent = 'Forecasted values(m/s)';

    const r2 = make('text', {x: left + 41, y: top + 71, 'font-size': 50}, panel);
    
    
    r2.textContent = 'R² = ' + r2Labels[r][c];
  }
}
</script>
</body>
</html>
